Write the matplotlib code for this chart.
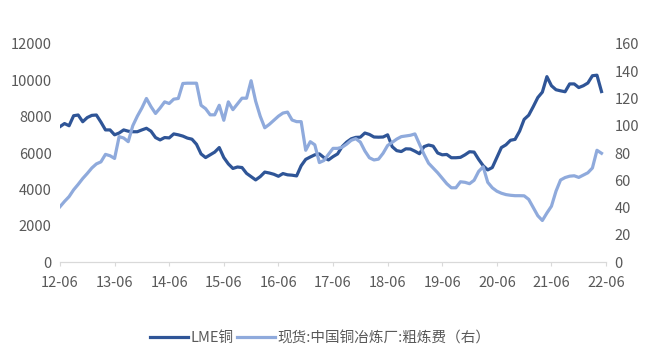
import numpy as np
import matplotlib.pyplot as plt

plt.rcParams['font.family'] = ['Noto Sans CJK SC', 'DejaVu Sans']

# 月度数据: 2012-06 至 2022-05
lme_cu = [7450, 7620, 7500, 8050, 8090, 7720, 7950, 8070, 8090, 7700,
          7270, 7270, 7000, 7100, 7270, 7200, 7170, 7170, 7270, 7360,
          7200, 6850, 6720, 6850, 6830, 7050, 7000, 6930, 6820, 6760,
          6480, 5950, 5750, 5900, 6050, 6300, 5750, 5400, 5150, 5230,
          5200, 4880, 4700, 4520, 4700, 4950, 4900, 4830, 4720, 4870,
          4800, 4780, 4740, 5300, 5650, 5780, 5900, 5950, 5750, 5620,
          5800, 5950, 6350, 6600, 6780, 6860, 6870, 7100, 7020, 6880,
          6870, 6880, 7000, 6350, 6130, 6080, 6230, 6220, 6100, 5960,
          6350, 6440, 6380, 6000, 5900, 5920, 5740, 5740, 5760, 5900,
          6070, 6050, 5650, 5300, 5070, 5200, 5750, 6300, 6450, 6700,
          6750, 7200, 7850, 8080, 8550, 9050, 9350, 10200, 9700, 9480,
          9420, 9370, 9800, 9800, 9600, 9700, 9850, 10250, 10280, 9380]

tc_fee = [40.6, 44.5, 48, 53, 57, 61.3, 65, 69, 72, 73.5,
          79, 78, 76, 92, 91, 88.3, 100, 107, 113, 120,
          114, 109, 113, 117.5, 116.3, 119.5, 120, 131, 131.2, 131.2,
          131.2, 115, 112.5, 108, 108, 115, 104, 117.5, 111.8, 116,
          120.2, 120.2, 133, 118, 107, 98.5, 101, 104, 107, 109.3,
          110, 104.2, 103, 103, 82, 88.3, 86, 73, 74.5, 79,
          83.4, 83.4, 84.2, 86.5, 89.3, 90.5, 88, 81.5, 76.5, 74.9,
          75.5, 79.8, 85.5, 87.8, 90.2, 92, 92.5, 93, 94, 86.5,
          79, 72.5, 69, 65.5, 61.5, 57.5, 54.5, 54.5, 58.9, 58.5,
          57.5, 60, 66.5, 69.9, 58.5, 54.5, 52, 50.5, 49.5, 49,
          48.7, 48.7, 48.6, 46, 40, 34, 30.5, 36, 41, 52,
          60.2, 62, 63, 63.3, 62.1, 63.8, 65.5, 69, 82, 79.8]

x_labels = ["12-06", "13-06", "14-06", "15-06", "16-06", "17-06",
            "18-06", "19-06", "20-06", "21-06", "22-06"]

DARK = "#2F5597"
LIGHT = "#8FAADC"
GREY = "#595959"

fig = plt.figure(figsize=(6.54, 3.63), dpi=100)
ax = fig.add_axes([0.0917, 0.278, 0.835, 0.601])
ax2 = ax.twinx()

t = np.arange(len(lme_cu))
l1, = ax.plot(t, lme_cu, color=DARK, lw=2.3, label="LME铜")
l2, = ax2.plot(t, tc_fee, color=LIGHT, lw=2.3, label="现货:中国铜冶炼厂:粗炼费（右）")

ax.set_xlim(0, 120)
ax.set_ylim(0, 12000)
ax2.set_ylim(0, 160)
ax.set_yticks(np.arange(0, 12001, 2000))
ax2.set_yticks(np.arange(0, 161, 20))
ax.set_xticks(np.arange(0, 121, 12))
ax.set_xticklabels(x_labels)

for a in (ax, ax2):
    for s in ("top", "left", "right"):
        a.spines[s].set_visible(False)
    a.spines["bottom"].set_color("#D9D9D9")
    a.tick_params(axis="y", length=0, labelsize=10.5, colors=GREY, pad=6)
ax.tick_params(axis="x", length=3, color="#D9D9D9", labelsize=10.5,
               labelcolor=GREY, pad=7)

fig.legend(handles=[l1, l2], loc="center", bbox_to_anchor=(0.49, 0.068),
           ncol=2, frameon=False, fontsize=10.5, handlelength=2.6,
           handletextpad=0.2, columnspacing=0.2, labelcolor=GREY)

fig.savefig("out.png", dpi=100)
